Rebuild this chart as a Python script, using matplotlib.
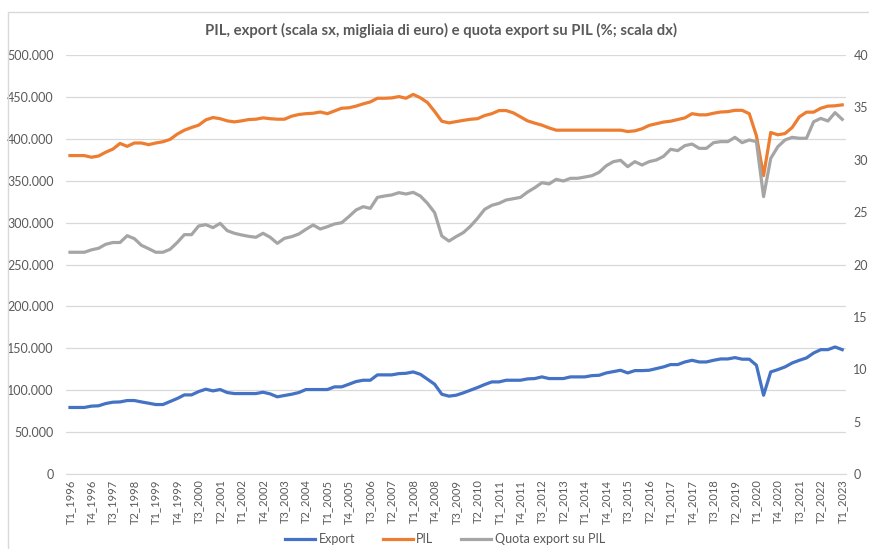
import matplotlib.pyplot as plt
from matplotlib.patches import Rectangle
from matplotlib.ticker import FuncFormatter

plt.rcParams['font.family'] = ['Lato', 'DejaVu Sans']

# trimestri T1_1996 ... T1_2023
quarters = [f"T{q}_{y}" for y in range(1996, 2024) for q in range(1, 5)][:109]

pil = [380000, 380000, 380000, 378000, 379500, 384000, 387700, 394500, 391000, 395000,
       395000, 393000, 395000, 396500, 399300, 405600, 410300, 413500, 416300, 422600,
       425400, 424000, 421400, 420200, 421400, 423000, 423400, 425000, 424000, 423400,
       423400, 427000, 429000, 430000, 430500, 432000, 430000, 433300, 436500, 437000,
       439000, 441700, 444000, 448400, 448400, 448800, 450400, 448400, 453000, 449000,
       443300, 432600, 421000, 419000, 420500, 422000, 423300, 424000, 427800, 430000,
       433700, 433700, 431000, 426200, 421400, 418700, 416300, 413000, 410300, 410300,
       410300, 410300, 410300, 410300, 410300, 410300, 410300, 410300, 408700, 409500,
       412000, 416000, 418000, 420000, 421000, 423000, 425000, 430000, 428600, 428600,
       430500, 432000, 432400, 434000, 434000, 430000, 403600, 356000, 407500, 404800,
       406300, 413500, 426200, 431800, 431800, 436500, 439000, 439400, 440500]

export = [79400, 79400, 79400, 81000, 81400, 84100, 85700, 86000, 87700, 87700,
          86000, 84500, 82900, 82900, 86500, 90100, 94400, 94400, 98400, 101200,
          99200, 100800, 97200, 96000, 96000, 96000, 96000, 97600, 95600, 92100,
          93700, 95200, 97200, 100800, 100800, 100800, 100800, 104000, 104000, 107100,
          110300, 111900, 111900, 118300, 118300, 118300, 119800, 120200, 121800, 119000,
          113100, 107100, 95200, 92900, 94000, 96800, 100000, 103200, 106800, 109900,
          109900, 111900, 111900, 111900, 113500, 113900, 115900, 113900, 113900, 113900,
          115900, 115900, 115900, 117400, 117800, 120600, 122200, 123800, 120600, 123400,
          123400, 123800, 125800, 127800, 130600, 130600, 133700, 135700, 133700, 133700,
          135700, 137300, 137300, 138900, 137000, 137000, 129800, 94000, 121800, 124600,
          127800, 132500, 135700, 138500, 144400, 148400, 148400, 151600, 148400]

quota = [21.17, 21.17, 21.17, 21.4, 21.55, 21.93, 22.1, 22.1, 22.75, 22.47,
         21.83, 21.51, 21.17, 21.17, 21.45, 22.1, 22.85, 22.85, 23.68, 23.8,
         23.52, 23.93, 23.23, 22.98, 22.82, 22.69, 22.6, 22.98, 22.6, 22.02,
         22.5, 22.66, 22.91, 23.36, 23.77, 23.39, 23.61, 23.87, 23.99, 24.57,
         25.2, 25.52, 25.36, 26.41, 26.54, 26.64, 26.86, 26.73, 26.89, 26.54,
         25.84, 24.95, 22.72, 22.24, 22.66, 23.04, 23.65, 24.41, 25.27, 25.65,
         25.84, 26.16, 26.28, 26.41, 26.92, 27.33, 27.81, 27.69, 28.13, 27.97,
         28.23, 28.23, 28.35, 28.48, 28.8, 29.43, 29.82, 29.95, 29.34, 29.82,
         29.5, 29.82, 29.98, 30.32, 31.0, 30.87, 31.35, 31.5, 31.09, 31.09,
         31.63, 31.73, 31.73, 32.14, 31.63, 31.89, 31.73, 26.48, 30.13, 31.25,
         31.89, 32.14, 32.05, 32.05, 33.63, 33.95, 33.7, 34.5, 33.86]

txt = '#595959'
grid = '#D9D9D9'

fig = plt.figure(figsize=(8.69, 5.49), dpi=100)
ax = fig.add_axes([0.0764, 0.1366, 0.8969, 0.7632])
ax2 = ax.twinx()

x = range(len(quarters))
l1, = ax.plot(x, export, color='#4472C4', lw=2.3, label='Export', solid_joinstyle='round')
l2, = ax.plot(x, pil, color='#ED7D31', lw=2.3, label='PIL', solid_joinstyle='round')
l3, = ax2.plot(x, quota, color='#A5A5A5', lw=2.3, label='Quota export su PIL', solid_joinstyle='round')

ax.set_xlim(-0.5, len(quarters) - 0.5)
ax.set_ylim(0, 500000)
ax.set_yticks(range(0, 500001, 50000))
ax.yaxis.set_major_formatter(FuncFormatter(lambda v, p: f"{int(v):,}".replace(",", ".")))
ax2.set_ylim(0, 40)
ax2.set_yticks(range(0, 41, 5))

ax.set_xticks(list(x)[::3])
ax.set_xticklabels(quarters[::3], rotation=90, fontsize=8, color=txt)

ax.grid(axis='y', color=grid, lw=0.9)
ax.set_axisbelow(True)
for a in (ax, ax2):
    for s in a.spines.values():
        s.set_visible(False)
ax.spines['bottom'].set_visible(True)
ax.spines['bottom'].set_color(grid)

ax.tick_params(axis='both', length=0, labelsize=9, labelcolor=txt)
ax.tick_params(axis='x', labelsize=8, pad=4)
ax.tick_params(axis='y', pad=9)
ax2.tick_params(axis='y', length=0, labelsize=9, labelcolor=txt, pad=5.5)

fig.text(0.507, 0.945, 'PIL, export (scala sx, migliaia di euro) e quota export su PIL (%; scala dx)',
         ha='center', va='center', fontsize=10.7, fontweight='bold', color=txt)

fig.legend(handles=[l1, l2, l3], loc='center', bbox_to_anchor=(0.512, 0.018), ncol=3,
           frameon=False, fontsize=9, labelcolor=txt, handlelength=2.4,
           handletextpad=0.3, columnspacing=2.2)

fig.patches.append(Rectangle((8 / 869, -0.05), 1.1, 1.05 - 12 / 549, transform=fig.transFigure,
                             fill=False, edgecolor=grid, lw=1, clip_on=False))

fig.savefig('out.png', dpi=100)
